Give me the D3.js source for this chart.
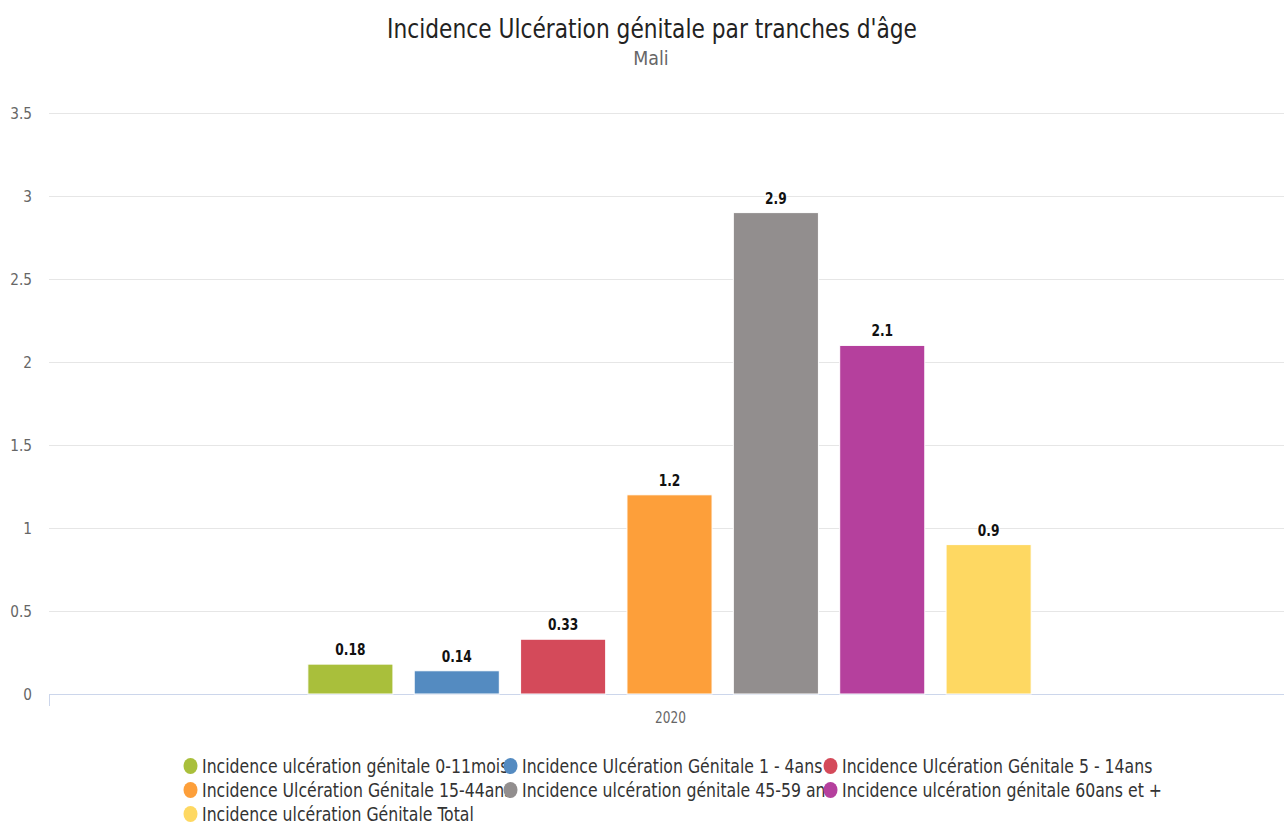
<!DOCTYPE html>
<html>
<head>
<meta charset="utf-8">
<script src="https://cdn.jsdelivr.net/npm/d3@7"></script>
<style>
  body { margin: 0; background: #fff; }
  text { font-family: "DejaVu Sans Condensed", "DejaVu Sans", sans-serif; }
</style>
</head>
<body>
<script>
// chart data
var categories = ["2020"];
var seriesNames = [
  "Incidence ulcération génitale 0-11mois",
  "Incidence Ulcération Génitale 1 - 4ans",
  "Incidence Ulcération Génitale 5 - 14ans",
  "Incidence Ulcération Génitale 15-44ans",
  "Incidence ulcération génitale 45-59 ans",
  "Incidence ulcération génitale 60ans et +",
  "Incidence ulcération Génitale Total"
];
var seriesValues = [0.18, 0.14, 0.33, 1.2, 2.9, 2.1, 0.9];
var seriesColors = ["#a9bf3b", "#548bc1", "#d44a5a", "#fd9f3a", "#928e8e", "#b5409d", "#fed862"];
var yTicks = [0, 0.5, 1, 1.5, 2, 2.5, 3, 3.5];

var width = 1284, height = 826;
var plot = { left: 49, right: 1290, top: 113, bottom: 694 };

var svg = d3.select("body").append("svg")
  .attr("width", width)
  .attr("height", height);

// text squeezed horizontally like the reference render
var addText = function (parent, x, y, sx, str) {
  return parent.append("g")
    .attr("transform", "translate(" + x + "," + y + ") scale(" + sx + ",1)")
    .append("text")
    .text(str);
};

// title + subtitle
addText(svg, 652, 38, 0.93, "Incidence Ulcération génitale par tranches d'âge")
  .attr("text-anchor", "middle")
  .attr("font-size", 26)
  .attr("fill", "#222");

addText(svg, 651, 65, 0.97, "Mali")
  .attr("text-anchor", "middle")
  .attr("font-size", 20)
  .attr("fill", "#666");

// scales
var y = d3.scaleLinear().domain([0, 3.5]).range([plot.bottom, plot.top]);
var x0 = d3.scaleBand().domain(categories).range([plot.left, plot.right]);
// groupPadding 0.2 on each side
var groupW = x0.bandwidth();
var x1 = d3.scaleBand().domain(d3.range(seriesValues.length))
  .range([groupW * 0.2, groupW * 0.8])
  .paddingInner(0.2).paddingOuter(0.1);

// grid lines
svg.append("g")
  .selectAll("line")
  .data(yTicks.filter(function (d) { return d > 0; }))
  .enter().append("line")
  .attr("x1", plot.left).attr("x2", width)
  .attr("y1", function (d) { return Math.round(y(d)) + 0.5; })
  .attr("y2", function (d) { return Math.round(y(d)) + 0.5; })
  .attr("stroke", "#e6e6e6");

// y axis labels
var yLabels = svg.append("g");
yTicks.forEach(function (t) {
  addText(yLabels, 32, y(t) + 6, 0.95, d3.format("")(t))
    .attr("text-anchor", "end")
    .attr("font-size", 16)
    .attr("fill", "#666");
});

// x axis
svg.append("line")
  .attr("x1", plot.left).attr("x2", width)
  .attr("y1", plot.bottom + 0.5).attr("y2", plot.bottom + 0.5)
  .attr("stroke", "#ccd6eb");
svg.append("line")
  .attr("x1", plot.left + 0.5).attr("x2", plot.left + 0.5)
  .attr("y1", plot.bottom).attr("y2", plot.bottom + 12)
  .attr("stroke", "#ccd6eb");
categories.forEach(function (c) {
  addText(svg, x0(c) + x0.bandwidth() / 2 + 1, 723, 0.9, c)
    .attr("text-anchor", "middle")
    .attr("font-size", 15)
    .attr("fill", "#666");
});

// bars
var group = svg.append("g")
  .attr("transform", "translate(" + x0(categories[0]) + ",0)");

group.selectAll("rect")
  .data(seriesValues)
  .enter().append("rect")
  .attr("x", function (d, i) { return x1(i); })
  .attr("y", function (d) { return y(d); })
  .attr("width", x1.bandwidth())
  .attr("height", function (d) { return plot.bottom - y(d); })
  .attr("fill", function (d, i) { return seriesColors[i]; })
  .attr("stroke", "#fff")
  .attr("stroke-width", 1);

seriesValues.forEach(function (v, i) {
  addText(group, x1(i) + x1.bandwidth() / 2, y(v) - 9, 0.85, v)
    .attr("text-anchor", "middle")
    .attr("font-size", 16)
    .attr("font-weight", "bold")
    .attr("fill", "#111")
    .attr("stroke", "#fff")
    .attr("stroke-width", 2)
    .attr("paint-order", "stroke");
});

// legend
var legendX = [183, 503, 823];
var legendY = [766, 790, 814];
var legend = svg.append("g");
seriesNames.forEach(function (name, i) {
  var lx = legendX[i % 3], ly = legendY[Math.floor(i / 3)];
  legend.append("ellipse")
    .attr("cx", lx + 7.5).attr("cy", ly)
    .attr("rx", 7).attr("ry", 8)
    .attr("fill", seriesColors[i]);
  addText(legend, lx + 19, ly + 7, 0.92, name)
    .attr("font-size", 19)
    .attr("fill", "#333");
});
</script>
</body>
</html>
